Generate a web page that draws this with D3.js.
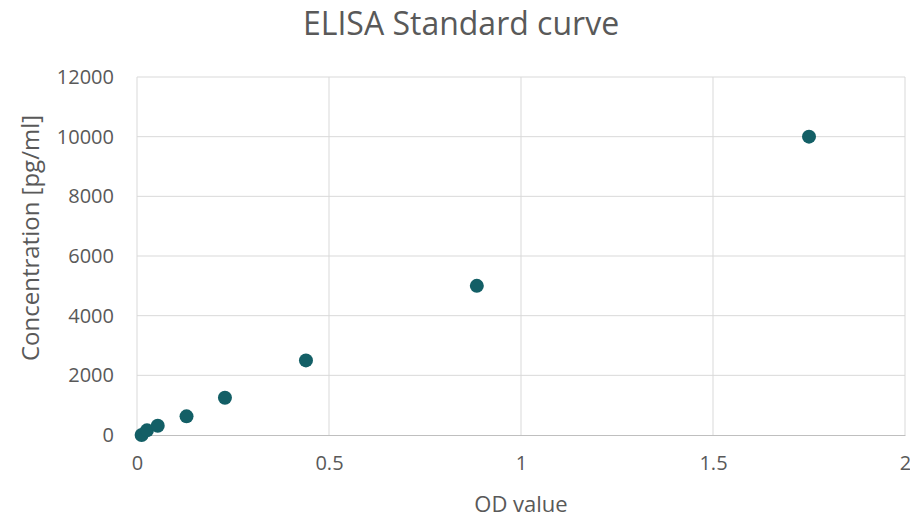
<!DOCTYPE html>
<html>
<head>
<meta charset="utf-8">
<script src="https://cdn.jsdelivr.net/npm/d3@7"></script>
<style>
  body { margin: 0; background: #fff; }
  svg { font-family: "Open Sans", "Liberation Sans", sans-serif; }
</style>
</head>
<body>
<svg id="chart" width="910" height="519"></svg>
<script>
// standard curve readings
const odValues = [0.012, 0.026, 0.054, 0.129, 0.229, 0.44, 0.885, 1.75]
const concentrations = [0, 156.25, 312.5, 625, 1250, 2500, 5000, 10000]
const xTicks = [0, 0.5, 1, 1.5, 2]
const yTicks = [0, 2000, 4000, 6000, 8000, 10000, 12000]

const width = 910
const height = 519
const margin = { top: 77, right: 5, bottom: 84, left: 137 }

const svg = d3.select('#chart')

const x = d3.scaleLinear().domain([0, 2]).range([margin.left, width - margin.right])
const y = d3.scaleLinear().domain([0, 12000]).range([height - margin.bottom, margin.top])

// gridlines
svg.append('g')
    .selectAll('line')
    .data(yTicks.slice(1))
    .join('line')
    .attr('x1', x(0)).attr('x2', x(2))
    .attr('y1', d => y(d)).attr('y2', d => y(d))
    .attr('stroke', '#d9d9d9')

svg.append('g')
    .selectAll('line')
    .data(xTicks)
    .join('line')
    .attr('x1', d => x(d)).attr('x2', d => x(d))
    .attr('y1', y(0)).attr('y2', y(12000))
    .attr('stroke', '#d9d9d9')

// axes
const xAxis = svg.append('g')
    .attr('transform', `translate(0,${y(0)})`)
    .call(d3.axisBottom(x).tickValues(xTicks).tickSize(0).tickPadding(21).tickFormat(d3.format('')))
xAxis.select('.domain').attr('stroke', '#bfbfbf')

const yAxis = svg.append('g')
    .attr('transform', `translate(${x(0)},0)`)
    .call(d3.axisLeft(y).tickValues(yTicks).tickSize(0).tickPadding(23).tickFormat(d3.format('')))
yAxis.select('.domain').remove()

svg.selectAll('.tick text')
    .attr('font-size', 20)
    .attr('font-family', '"Open Sans", "Liberation Sans", sans-serif')
    .attr('fill', '#595959')

// points
svg.append('g')
    .selectAll('circle')
    .data(odValues.map((v, i) => ({ od: v, conc: concentrations[i] })))
    .join('circle')
    .attr('cx', d => x(d.od))
    .attr('cy', d => y(d.conc))
    .attr('r', 7)
    .attr('fill', '#135f66')

// titles
svg.append('text')
    .text('ELISA Standard curve')
    .attr('x', 461)
    .attr('y', 35)
    .attr('text-anchor', 'middle')
    .attr('font-size', 32)
    .attr('fill', '#595959')

svg.append('text')
    .text('OD value')
    .attr('x', (x(0) + x(2)) / 2)
    .attr('y', 512)
    .attr('text-anchor', 'middle')
    .attr('font-size', 22)
    .attr('fill', '#595959')

svg.append('text')
    .text('Concentration [pg/ml]')
    .attr('transform', 'translate(39,238) rotate(-90)')
    .attr('text-anchor', 'middle')
    .attr('font-size', 24)
    .attr('fill', '#595959')
</script>
</body>
</html>
